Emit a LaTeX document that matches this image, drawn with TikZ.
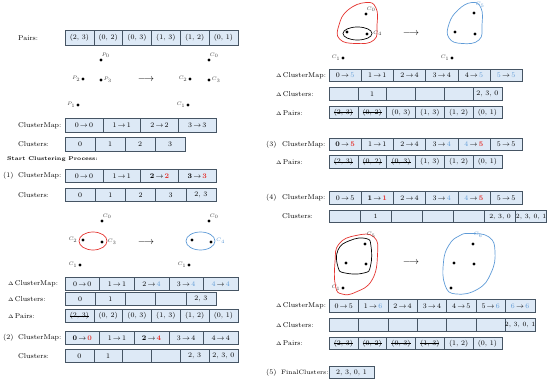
\documentclass[tikz,border=0pt]{standalone}
\usepackage{amsmath, amssymb}
\usepackage{xcolor}
\usepackage{tikz}
\usetikzlibrary{positioning, shapes.geometric}

\definecolor{cellfill}{RGB}{221,233,246}
\definecolor{cellline}{RGB}{70,85,100}
\definecolor{mapred}{RGB}{228,52,48}
\definecolor{mapblue}{RGB}{95,155,215}

\newcommand{\clmap}[2]{#1\,$\rightarrow$\,#2}
\newcommand{\hlred}[1]{\textcolor{mapred}{#1}}
\newcommand{\hlblue}[1]{\textcolor{mapblue}{#1}}
\newcommand{\dl}{$\scriptscriptstyle\Delta$\,}
\newcommand{\strk}[1]{\setbox0=\hbox{#1}\rlap{\rule[0.55ex]{\wd0}{0.45pt}}\box0}
% one row of cells: [options]{prefix}{left x}{y}{cell width}{entries}
\newcommand{\cellrow}[6][]{%
  \foreach \txt [count=\i] in {#6}
    \node[cell, minimum width=#5pt, #1] (#2\i) at ({#3+(\i-0.5)*#5}, #4) {\txt};%
}

\begin{document}
\begin{tikzpicture}[x=1pt, y=-1pt,
    cell/.style={draw=cellline, fill=cellfill, line width=0.5pt, minimum height=12.5pt, inner sep=0pt, font=\fontsize{7}{8}\selectfont},
    lbl/.style={anchor=west, inner sep=0pt, font=\fontsize{7}{8}\selectfont},
    pt/.style={circle, fill=black, inner sep=0pt, minimum size=3.2pt},
    ptlbl/.style={font=\fontsize{4}{4}\selectfont, inner sep=0.6pt, text=black!75},
    grp/.style={ellipse, draw, line width=0.7pt, minimum width=28pt, minimum height=18pt},
    blob/.style={line width=0.7pt},
    small/.style={font=\fontsize{6.4}{7}\selectfont}
  ]
  \useasboundingbox (0,0) rectangle (550,382);

  % initial state
  \node[lbl] (lpa) at (18,38) {Pairs:};
  \cellrow[minimum height=15pt]{pa}{65}{37.5}{28.8}{{(2, 3)},{(0, 2)},{(0, 3)},{(1, 3)},{(1, 2)},{(0, 1)}}

  \node[pt, label={[ptlbl, xshift=-1.5pt]above right:$P_0$}] (p0) at (101,60) {};
  \node[pt, label={[ptlbl]left:$P_2$}] (p2) at (83,79) {};
  \node[pt, label={[ptlbl]right:$P_3$}] (p3) at (101,80) {};
  \node[pt, label={[ptlbl]left:$P_1$}] (p1) at (78,105) {};
  \node (a1) at (146,80) {$\longrightarrow$};
  \node[pt, label={[ptlbl, xshift=-1.5pt]above right:$C_0$}] (c0) at (209,60) {};
  \node[pt, label={[ptlbl]left:$C_2$}] (c2) at (190,79) {};
  \node[pt, label={[ptlbl]right:$C_3$}] (c3) at (209,80) {};
  \node[pt, label={[ptlbl]left:$C_1$}] (c1) at (188,105) {};

  \node[lbl] (lcm0) at (18,125.5) {ClusterMap:};
  \cellrow[minimum height=14.5pt]{cma}{65}{125.5}{37.8}{{\clmap{0}{0}},{\clmap{1}{1}},{\clmap{2}{2}},{\clmap{3}{3}}}
  \node[lbl] (lcl0) at (18,144) {Clusters:};
  \cellrow[minimum height=14pt]{cla}{65}{144}{30}{0,1,2,3}

  \node[lbl, font=\fontsize{5.4}{6}\selectfont\bfseries] (start) at (7,159) {Start Clustering Process:};

  % step 1
  \node[lbl] (s1) at (3,176) {(1)};
  \node[lbl] (lcm1) at (18,176) {ClusterMap:};
  \cellrow{cmb}{65}{176}{37.8}{{\clmap{0}{0}},{\clmap{1}{1}},{\clmap{\textbf{2}}{\hlred{\textbf{2}}}},{\clmap{\textbf{3}}{\hlred{\textbf{3}}}}}
  \node[lbl] (lcl1) at (18,195) {Clusters:};
  \cellrow{clb}{65}{195}{30.2}{0,1,2,3,{2, 3}}

  \node[pt, label={[ptlbl, xshift=-1.5pt]above right:$C_0$}] (m0) at (102,221) {};
  \node[pt, label={[ptlbl, label distance=3pt]left:$C_2$}] (m2) at (83,240) {};
  \node[pt, label={[ptlbl, label distance=3pt]right:$C_3$}] (m3) at (102,242) {};
  \node[pt, label={[ptlbl]left:$C_1$}] (m1) at (80,265) {};
  \node[grp, draw=mapred] (e1) at (93,241) {};
  \node (a2) at (146,243) {$\longrightarrow$};
  \node[pt, label={[ptlbl, xshift=-1.5pt]above right:$C_0$}] (n0) at (209,221) {};
  \node[pt] (n2) at (192,240) {};
  \node[pt] (n3) at (211,242) {};
  \node[pt, label={[ptlbl]left:$C_1$}] (n1) at (189,265) {};
  \node[grp, draw=mapblue, minimum width=29pt, label={[ptlbl, text=mapblue]right:$C_4$}] (e2) at (200.5,241) {};

  \node[lbl] (ldcm1) at (8,284) {\dl ClusterMap:};
  \cellrow{dcmb}{65}{284}{34.6}{{\clmap{0}{0}},{\clmap{1}{1}},{\clmap{2}{\hlblue{4}}},{\clmap{3}{\hlblue{4}}},{\clmap{\hlblue{4}}{\hlblue{4}}}}
  \node[lbl] (ldcl1) at (8,299) {\dl Clusters:};
  \cellrow{dclb}{65}{299}{30.2}{0,1,{},{},{2, 3}}
  \node[lbl] (ldpa1) at (8,316) {\dl Pairs:};
  \cellrow{dpab}{65}{316}{28.8}{{\strk{(2, 3)}},{(0, 2)},{(0, 3)},{(1, 3)},{(1, 2)},{(0, 1)}}

  % step 2
  \node[lbl] (s2) at (3,338) {(2)};
  \node[lbl] (lcm2) at (18,338) {ClusterMap:};
  \cellrow{cmc}{65}{338}{34.6}{{\clmap{\textbf{0}}{\hlred{\textbf{0}}}},{\clmap{1}{1}},{\clmap{\textbf{2}}{\hlred{\textbf{4}}}},{\clmap{3}{4}},{\clmap{4}{4}}}
  \node[lbl] (lcl2) at (18,356) {Clusters:};
  \cellrow{clc}{65}{356}{28.8}{0,1,{},{},{2, 3},{2, 3, 0}}

  \node[pt, label={[ptlbl, xshift=-1.5pt]above right:$C_0$}] (r0) at (366,14) {};
  \node[pt] (r2) at (347,32) {};
  \node[pt] (r3) at (367,34) {};
  \node[pt, label={[ptlbl]left:$C_1$}] (r1) at (343,58) {};
  \node[grp, minimum width=29pt, minimum height=13pt, label={[ptlbl]right:$C_4$}] (e3) at (357.5,33.5) {};
  \draw[blob, mapred] plot[smooth cycle, tension=0.8] coordinates {(366,2.5) (376,8) (377,25) (374,40) (356,43.5) (339.5,39) (339,25) (348,10)};
  \node (a3) at (411,34) {$\longrightarrow$};
  \node[pt] (t0) at (474,13) {};
  \node[pt] (t2) at (455,32) {};
  \node[pt] (t3) at (475,34) {};
  \node[pt, label={[ptlbl]left:$C_1$}] (t1) at (452,58) {};
  \draw[blob, mapblue] plot[smooth cycle, tension=0.8] coordinates {(472,2.5) (481,8) (482,25) (479,40) (462,43.5) (449,38) (449,24) (458,10)};
  \node[ptlbl, text=mapblue] (lc5) at (480,5) {$C_5$};

  \node[lbl] (ldcm2) at (276,76) {\dl ClusterMap:};
  \cellrow{dcmc}{329}{75.5}{32.2}{{\clmap{0}{\hlblue{5}}},{\clmap{1}{1}},{\clmap{2}{4}},{\clmap{3}{4}},{\clmap{4}{\hlblue{5}}},{\clmap{\hlblue{5}}{\hlblue{5}}}}
  \node[lbl] (ldcl2) at (276,94) {\dl Clusters:};
  \cellrow{dclc}{329}{94}{28.8}{{},1,{},{},{},{2, 3, 0}}
  \node[lbl] (ldpa2) at (276,113) {\dl Pairs:};
  \cellrow{dpac}{329}{112.5}{28.8}{{\strk{(2, 3)}},{\strk{(0, 2)}},{(0, 3)},{(1, 3)},{(1, 2)},{(0, 1)}}

  % step 3
  \node[lbl] (s3) at (266,144.5) {(3)};
  \node[lbl] (lcm3) at (282,144.5) {ClusterMap:};
  \cellrow{cmd}{329}{144.5}{32.2}{{\clmap{\textbf{0}}{\hlred{\textbf{5}}}},{\clmap{1}{1}},{\clmap{2}{4}},{\clmap{3}{\hlblue{4}}},{\clmap{\hlblue{4}}{\hlred{\textbf{5}}}},{\clmap{5}{5}}}
  \node[lbl] (ldpa3) at (276,162) {\dl Pairs:};
  \cellrow{dpad}{329}{162}{28.8}{{\strk{(2, 3)}},{\strk{(0, 2)}},{\strk{(0, 3)}},{(1, 3)},{(1, 2)},{(0, 1)}}

  % step 4
  \node[lbl] (s4) at (266,198) {(4)};
  \node[lbl] (lcm4) at (282,198) {ClusterMap:};
  \cellrow{cme}{329}{198}{32.2}{{\clmap{0}{5}},{\clmap{\textbf{1}}{\hlred{\textbf{1}}}},{\clmap{2}{4}},{\clmap{3}{\hlblue{4}}},{\clmap{\hlblue{4}}{\hlred{\textbf{5}}}},{\clmap{5}{5}}}
  \node[lbl] (lcl4) at (282,216.5) {Clusters:};
  \cellrow[small]{cle}{329}{216.5}{31.1}{{},1,{},{},{},{2, 3, 0},{2, 3, 0, 1}}

  \node[pt] (u0) at (365,244) {};
  \node[pt] (u2) at (346,263) {};
  \node[pt] (u3) at (366,264) {};
  \node[pt, label={[ptlbl]left:$C_1$}] (u1) at (343,288) {};
  \draw[blob] plot[smooth cycle, tension=0.8] coordinates {(350,240.5) (366,238.5) (371,246) (370.5,266) (364,273) (345,273) (338,267) (338,250)};
  \draw[blob, mapred] plot[smooth cycle, tension=0.8] coordinates {(356,235.5) (374,237) (377.5,255) (372,280) (356,292) (342,294) (335.5,286) (335,262) (339,244)};
  \node[ptlbl] (lc5b) at (371,235) {$C_5$};
  \node (a4) at (411,263) {$\longrightarrow$};
  \node[pt] (v0) at (473,244) {};
  \node[pt] (v2) at (454,263) {};
  \node[pt] (v3) at (474,264) {};
  \node[pt] (v1) at (451,288) {};
  \draw[blob, mapblue] plot[smooth cycle, tension=0.8] coordinates {(470,233.5) (489,237) (495,252) (491,273) (478,289) (456,294) (445,285) (443.5,262) (449,245) (459,236)};
  \node[ptlbl, text=mapblue] (lc6) at (478,235) {$C_6$};

  \node[lbl] (ldcm4) at (276,306) {\dl ClusterMap:};
  \cellrow{dcme}{329}{306}{29.4}{{\clmap{0}{5}},{\clmap{1}{\hlblue{6}}},{\clmap{2}{4}},{\clmap{3}{4}},{\clmap{4}{5}},{\clmap{5}{\hlblue{6}}},{\clmap{\hlblue{6}}{\hlblue{6}}}}
  \node[lbl] (ldcl4) at (276,325) {\dl Clusters:};
  \cellrow[small]{dcle}{329}{325}{29.4}{{},{},{},{},{},{},{2, 3, 0, 1}}
  \node[lbl] (ldpa4) at (276,343.5) {\dl Pairs:};
  \cellrow{dpae}{329}{343.5}{28.8}{{\strk{(2, 3)}},{\strk{(0, 2)}},{\strk{(0, 3)}},{\strk{(1, 3)}},{(1, 2)},{(0, 1)}}

  % step 5
  \node[lbl] (s5) at (266,372.5) {(5)};
  \node[lbl, font=\fontsize{6.3}{7}\selectfont] (lfc) at (281,372.5) {FinalClusters:};
  \cellrow{fc}{329}{372.5}{45}{{2, 3, 0, 1}}
\end{tikzpicture}
\end{document}
